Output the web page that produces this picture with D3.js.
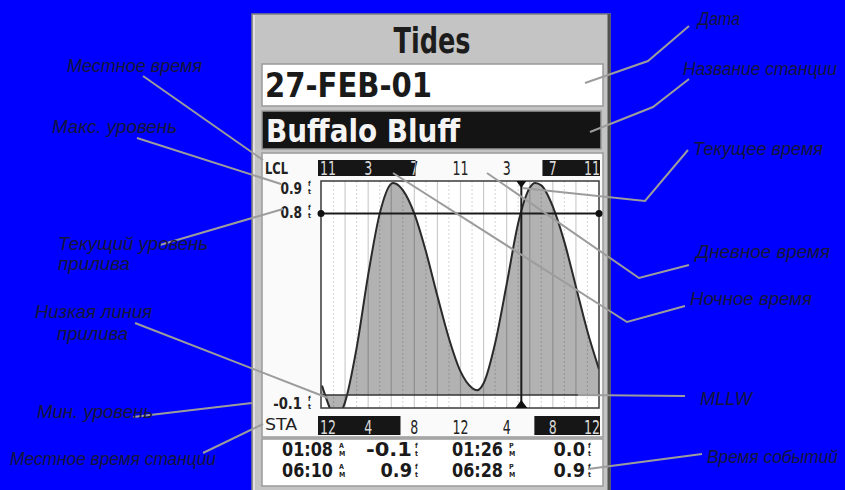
<!DOCTYPE html>
<html><head><meta charset="utf-8">
<script src="https://cdn.jsdelivr.net/npm/d3@7"></script>
<style>body{margin:0;background:#0000ff;overflow:hidden}</style>
</head><body><svg id="c" width="845" height="490"></svg>
<script>
// ---------- data ----------
const stationHours = [0,1,1.13,2,3,4,5,6,6.17,7,8,9,10,11,12,13,13.43,14,15,16,17,18,18.47,19,20,21,22,23,24];
const tideLevels   = [0.04,-0.09,-0.1,-0.03,0.2,0.51,0.77,0.897,0.9,0.87,0.77,0.61,0.42,0.24,0.1,0.03,0.02,0.05,0.22,0.47,0.73,0.88,0.9,0.89,0.8,0.65,0.46,0.27,0.11];
const labelHours = [0,4,8,12,16,20,24];
const lclLabels = ["11","3","7","11","3","7","11"];
const staLabels = ["12","4","8","12","4","8","12"];
const nightLcl = [[0,8.1],[19.1,24]];
const nightSta = [[0,6.8],[18.4,24]];
const currentHour = 17.27;
const currentLevel = 0.77;
const levelLabels = ["0.9","0.8","-0.1"];
const levelLabelValues = [0.9,0.77,-0.1];
const eventTimes = ["01:08","06:10","01:26","06:28"];
const eventMeridiem = ["AM","AM","PM","PM"];
const eventLevels = ["-0.1","0.9","0.0","0.9"];
const annoTexts = [["Местное время"],["Макс. уровень"],["Текущий уровень","прилива"],["Низкая линия","прилива"],["Мин. уровень"],["Местное время станции"],["Дата"],["Название станции"],["Текущее время"],["Дневное время"],["Ночное время"],["MLLW"],["Время событий"]];

// ---------- layout ----------
const annoLayout = [
 {x:[67],y:[72],w:[135],p:[[143,76],[263,160]]},
 {x:[52],y:[133],w:[125],p:[[137,138],[281,184]]},
 {x:[58,58],y:[250,270],w:[150,72],p:[[160,245],[283,209]]},
 {x:[35,57],y:[318,340],w:[117,71],p:[[135,323],[328,398]]},
 {x:[37],y:[418],w:[116],p:[[133,417],[252,403]]},
 {x:[10],y:[465],w:[206],p:[[203,453],[263,424]]},
 {x:[698],y:[25],w:[42],p:[[689,26],[648,61],[585,83]]},
 {x:[683],y:[75],w:[154],p:[[689,79],[653,107],[590,132]]},
 {x:[693],y:[155],w:[130],p:[[688,150],[645,201],[522,188]]},
 {x:[696],y:[258],w:[134],p:[[689,265],[639,278],[487,173]]},
 {x:[690],y:[305],w:[122],p:[[685,306],[627,322],[393,173]]},
 {x:[700],y:[405],w:[52],p:[[685,396],[578,395]]},
 {x:[707],y:[463],w:[131],p:[[702,454],[588,469]]}
];

const svg = d3.select("#c");
const devFont = "'DejaVu Sans Condensed','Liberation Sans Narrow','DejaVu Sans',sans-serif";
const x = d3.scaleLinear().domain([0,24]).range([322,599]);
const y = d3.scaleLinear().domain([0,0.9]).range([395,183]);
const pl = 321, pr = 599, pt = 181, pb = 408;

svg.append("rect").attr("width",845).attr("height",490).attr("fill","#0000ff");

// device panel
svg.append("rect").attr("x",252).attr("y",14).attr("width",358).attr("height",490)
  .attr("fill","#c4c4c4").attr("stroke","#808080").attr("stroke-width",1.5);
svg.append("line").attr("x1",609).attr("x2",609).attr("y1",14).attr("y2",490).attr("stroke","#505050").attr("stroke-width",3);
svg.append("line").attr("x1",254).attr("x2",254).attr("y1",15).attr("y2",490).attr("stroke","#e0e0e0").attr("stroke-width",2);

svg.append("text").attr("x",432).attr("y",53).attr("text-anchor","middle")
  .attr("font-family",devFont).attr("font-weight","bold").attr("font-size",35)
  .attr("textLength",77).attr("lengthAdjust","spacingAndGlyphs").attr("fill","#1c1c1c").text("Tides");

svg.append("rect").attr("x",262).attr("y",64).attr("width",341).attr("height",42)
  .attr("fill","#fff").attr("stroke","#999").attr("stroke-width",1.5);
svg.append("text").attr("x",265).attr("y",97).attr("font-family",devFont).attr("font-weight","bold")
  .attr("font-size",34).attr("textLength",167).attr("lengthAdjust","spacingAndGlyphs").attr("fill","#1a1a1a").text("27-FEB-01");

svg.append("rect").attr("x",262).attr("y",111).attr("width",339).attr("height",38)
  .attr("fill","#141414").attr("stroke","#999").attr("stroke-width",1.5);
svg.append("text").attr("x",266).attr("y",142).attr("font-family",devFont).attr("font-weight","bold")
  .attr("font-size",32).attr("textLength",194).attr("lengthAdjust","spacingAndGlyphs").attr("fill","#f4f4f4").text("Buffalo Bluff");

// graph section
svg.append("rect").attr("x",262).attr("y",153).attr("width",341).attr("height",284)
  .attr("fill","#fafafa").attr("stroke","#9a9a9a").attr("stroke-width",1.5);

function bar(y0, h, nights, labels){
  const g = svg.append("g");
  const id = "clip"+y0;
  const cp = svg.append("clipPath").attr("id",id);
  nights.forEach(n=>{
    const xa = n[0]===0 ? x(n[0])-4 : x(n[0]);
    const xb = n[1]===24 ? x(n[1])+1 : x(n[1]);
    g.append("rect").attr("x",xa).attr("y",y0).attr("width",xb-xa).attr("height",h).attr("fill","#161616");
    cp.append("rect").attr("x",xa).attr("y",y0).attr("width",xb-xa).attr("height",h);
  });
  [["#222",null],["#d8d8d8",id]].forEach(([col,clip])=>{
    const tg = g.append("g");
    if(clip) tg.attr("clip-path","url(#"+clip+")");
    labels.forEach((t,i)=>{
      const h0 = labelHours[i];
      const anchor = h0===0 ? "start" : (h0===24 ? "end" : "middle");
      const xx = h0===0 ? x(h0)-2 : (h0===24 ? x(h0)+1 : x(h0));
      tg.append("text").attr("x",xx).attr("y",y0+h-1.5).attr("text-anchor",anchor)
        .attr("font-family",devFont).attr("font-size",19).attr("fill",col)
        .attr("textLength",t.length*8).attr("lengthAdjust","spacingAndGlyphs").text(t);
    });
  });
}
bar(160,16,nightLcl,lclLabels);
bar(416,19,nightSta,staLabels);

svg.append("text").attr("x",265).attr("y",174).attr("font-family",devFont).attr("font-size",15).attr("font-weight","bold")
  .attr("textLength",23).attr("lengthAdjust","spacingAndGlyphs").attr("fill","#222").text("LCL");
svg.append("text").attr("x",265).attr("y",430).attr("font-family",devFont).attr("font-size",16)
  .attr("textLength",32).attr("lengthAdjust","spacingAndGlyphs").attr("fill","#222").text("STA");

// plot
svg.append("rect").attr("x",pl).attr("y",pt).attr("width",pr-pl).attr("height",pb-pt).attr("fill","#fff");
svg.append("clipPath").attr("id","plotclip").append("rect").attr("x",pl).attr("y",pt).attr("width",pr-pl).attr("height",pb-pt);
const pg = svg.append("g").attr("clip-path","url(#plotclip)");
const pts = stationHours.map((h,i)=>[h,tideLevels[i]]);
pg.append("path").datum(pts).attr("fill","#b2b2b2")
  .attr("d",d3.area().x(d=>x(d[0])).y0(y(0)).y1(d=>y(d[1])).curve(d3.curveMonotoneX));
d3.range(1,24).forEach(h=>{
  pg.append("line").attr("x1",x(h)).attr("x2",x(h)).attr("y1",pt).attr("y2",pb)
    .attr("stroke","#000").attr("stroke-opacity",h%2?0.14:0.2).attr("stroke-width",1.2)
    .attr("stroke-dasharray",h%2?"2,2":null);
});
pg.append("path").datum(pts).attr("fill","none").attr("stroke","#2a2a2a").attr("stroke-width",2)
  .attr("d",d3.line().x(d=>x(d[0])).y(d=>y(d[1])).curve(d3.curveMonotoneX));
svg.append("line").attr("x1",pl).attr("x2",578).attr("y1",y(0)).attr("y2",y(0)).attr("stroke","#333").attr("stroke-width",1.5);
svg.append("rect").attr("x",pl).attr("y",pt).attr("width",pr-pl).attr("height",pb-pt)
  .attr("fill","none").attr("stroke","#3a3a3a").attr("stroke-width",1.5);

// current level & time
svg.append("line").attr("x1",pl).attr("x2",pr).attr("y1",y(currentLevel)).attr("y2",y(currentLevel)).attr("stroke","#1a1a1a").attr("stroke-width",2);
[pl,pr].forEach(cx=>svg.append("circle").attr("cx",cx).attr("cy",y(currentLevel)).attr("r",3.5).attr("fill","#111"));
const cx = x(currentHour);
svg.append("line").attr("x1",cx).attr("x2",cx).attr("y1",pt).attr("y2",pb).attr("stroke","#1a1a1a").attr("stroke-width",2);
svg.append("path").attr("d",`M${cx-5},${pt}L${cx+5},${pt}L${cx},${pt+7}Z`).attr("fill","#111");
svg.append("path").attr("d",`M${cx-6},${pb}L${cx+6},${pb}L${cx},${pb-8}Z`).attr("fill","#111");

// stacked small two-letter marks as one text element
function stack(xx, base, pair){
  const t = svg.append("text").attr("font-family",devFont).attr("font-weight","bold").attr("font-size",7).attr("fill","#222");
  t.append("tspan").attr("x",xx).attr("y",base-8).text(pair[0]);
  t.append("tspan").attr("x",xx).attr("y",base).text(pair[1]);
}
levelLabels.forEach((t,i)=>{
  const b = Math.max(194, Math.min(409, y(levelLabelValues[i])+4));
  svg.append("text").attr("x",302).attr("y",b).attr("text-anchor","end").attr("font-family",devFont).attr("font-weight","bold")
    .attr("font-size",16).attr("fill","#222").attr("textLength",t.length*7.2).attr("lengthAdjust","spacingAndGlyphs").text(t);
  stack(308,b,"ft");
});

// events table
svg.append("rect").attr("x",262).attr("y",439).attr("width",341).attr("height",47)
  .attr("fill","#fff").attr("stroke","#9a9a9a").attr("stroke-width",1.5);
eventTimes.forEach((t,i)=>{
  const col = Math.floor(i/2), row = i%2;
  const b = 456 + row*21;
  const tx = col ? 452 : 282;
  svg.append("text").attr("x",tx).attr("y",b).attr("font-family",devFont).attr("font-weight","bold")
    .attr("font-size",19).attr("fill","#1a1a1a").attr("textLength",51).attr("lengthAdjust","spacingAndGlyphs").text(t);
  stack(tx+57,b,eventMeridiem[i]);
  const vx = col ? 585 : 412;
  const v = eventLevels[i];
  svg.append("text").attr("x",vx).attr("y",b).attr("text-anchor","end").attr("font-family",devFont).attr("font-weight","bold")
    .attr("font-size",19).attr("fill","#1a1a1a").attr("textLength",v.length*(v[0]==="-"?11.5:10.5)).attr("lengthAdjust","spacingAndGlyphs").text(v);
  stack(vx+3,b,"ft");
});

// annotations
const ag = svg.append("g");
annoLayout.forEach((a,i)=>{
  ag.append("path").attr("d",d3.line()(a.p)).attr("fill","none").attr("stroke","#9c9c9c").attr("stroke-width",2);
});
annoLayout.forEach((a,i)=>{
  annoTexts[i].forEach((t,j)=>{
    const fs = (a.x[j] + a.w[j] > 830) ? 17.5 : 19;
    ag.append("text").attr("x",a.x[j]).attr("y",a.y[j]).attr("font-family","'Liberation Sans',Arial,sans-serif")
      .attr("font-style","italic").attr("font-size",fs).attr("fill","#16163a")
      .attr("textLength",a.w[j]).attr("lengthAdjust","spacingAndGlyphs").text(t);
  });
});
</script></body></html>
